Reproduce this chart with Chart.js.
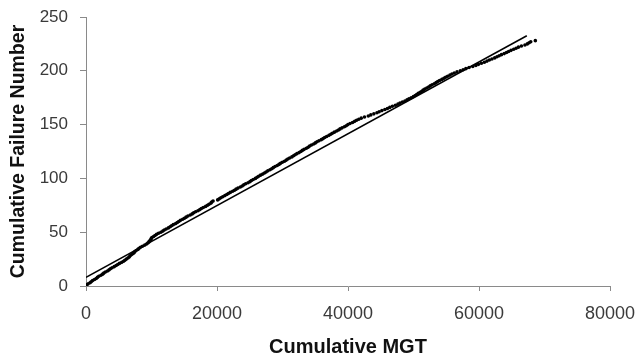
<!DOCTYPE html>
<html>
<head>
<meta charset="utf-8">
<script src="https://cdn.jsdelivr.net/npm/chart.js@4"></script>
<style>
  html, body { margin: 0; padding: 0; background: #fff; }
  #wrap { width: 636px; height: 359px; }
</style>
</head>
<body>
<div id="wrap"><canvas id="myChart"></canvas></div>
<script>
// data: one point per failure
const failureNo = [1, 2, 3, 4, 5, 6, 7, 8, 9, 10, 11, 12, 13, 14, 15, 16, 17, 18, 19, 20,
  21, 22, 23, 24, 25, 26, 27, 28, 29, 30, 31, 32, 33, 34, 35, 36, 37, 38, 39, 40,
  41, 42, 43, 44, 45, 46, 47, 48, 49, 50, 51, 52, 53, 54, 55, 56, 57, 58, 59, 60,
  61, 62, 63, 64, 65, 66, 67, 68, 69, 70, 71, 72, 73, 74, 75, 76, 77, 78, 79, 80,
  81, 82, 83, 84, 85, 86, 87, 88, 89, 90, 91, 92, 93, 94, 95, 96, 97, 98, 99, 100,
  101, 102, 103, 104, 105, 106, 107, 108, 109, 110, 111, 112, 113, 114, 115, 116, 117, 118, 119, 120,
  121, 122, 123, 124, 125, 126, 127, 128, 129, 130, 131, 132, 133, 134, 135, 136, 137, 138, 139, 140,
  141, 142, 143, 144, 145, 146, 147, 148, 149, 150, 151, 152, 153, 154, 155, 156, 157, 158, 159, 160,
  161, 162, 163, 164, 165, 166, 167, 168, 169, 170, 171, 172, 173, 174, 175, 176, 177, 178, 179, 180,
  181, 182, 183, 184, 185, 186, 187, 188, 189, 190, 191, 192, 193, 194, 195, 196, 197, 198, 199, 200,
  201, 202, 203, 204, 205, 206, 207, 208, 209, 210, 211, 212, 213, 214, 215, 216, 217, 218, 219, 220,
  221, 222, 223, 224, 225, 226, 227, 228];
const cumMGT = [100, 330, 620, 790, 1010, 1300, 1560, 1740, 1960, 2280, 2540, 2720, 2960, 3280, 3530, 3730, 3980, 4310, 4600, 4840,
  5110, 5450, 5740, 5930, 6170, 6400, 6590, 6730, 6920, 7150, 7340, 7470, 7660, 7920, 8110, 8330, 8620, 8970, 9250, 9430,
  9600, 9740, 9870, 9950, 10060, 10320, 10530, 10780, 11070, 11430, 11730, 11950, 12240, 12580, 12850, 13060, 13330, 13690, 13940, 14160,
  14420, 14760, 15030, 15280, 15560, 15920, 16210, 16440, 16730, 17090, 17380, 17620, 17910, 18270, 18560, 18780, 19060, 19200, 19400, 20100,
  20350, 20590, 20870, 21200, 21490, 21740, 22030, 22390, 22680, 22920, 23210, 23570, 23850, 24090, 24380, 24740, 25030, 25260, 25540, 25870,
  26130, 26360, 26650, 26980, 27250, 27490, 27760, 28090, 28350, 28590, 28870, 29190, 29460, 29700, 29980, 30310, 30580, 30810, 31090, 31430,
  31690, 31920, 32200, 32530, 32800, 33030, 33310, 33650, 33910, 34140, 34420, 34760, 35020, 35270, 35570, 35920, 36200, 36440, 36740, 37090,
  37370, 37610, 37920, 38270, 38550, 38790, 39100, 39450, 39730, 39990, 40310, 40690, 41020, 41310, 41650, 42020, 42520, 43100, 43480, 43950,
  44420, 44760, 45180, 45630, 46020, 46380, 46780, 47230, 47620, 47940, 48310, 48690, 49020, 49310, 49650, 49990, 50270, 50490, 50730, 51020,
  51270, 51480, 51730, 52030, 52310, 52560, 52840, 53170, 53450, 53700, 53980, 54330, 54640, 54900, 55210, 55560, 55870, 56230, 56650, 57150,
  57580, 57990, 58480, 59050, 59520, 59920, 60380, 60830, 61220, 61580, 61980, 62400, 62750, 63080, 63430, 63850, 64200, 64520, 64890, 65300,
  65660, 66020, 66480, 67010, 67380, 67650, 67900, 68600];

// fitted straight line (two ends)
const fitMGT = [0, 67300];
const fitFailures = [8, 232.6];

const xTicks = [0, 20000, 40000, 60000, 80000];
const yTicks = [0, 50, 100, 150, 200, 250];

const fontFamily = '"Liberation Sans", Arial, sans-serif';
const axisGray = '#8a8a8a';

const points = cumMGT.map((x, i) => ({ x: x, y: failureNo[i] }));
const fit = fitMGT.map((x, i) => ({ x: x, y: fitFailures[i] }));

const ctx = document.getElementById('myChart').getContext('2d');
const myChart = new Chart(ctx, {
  type: 'scatter',
  data: {
    datasets: [{
      label: 'Failures',
      data: points,
      backgroundColor: '#000',
      borderWidth: 0,
      pointRadius: 1.8,
      order: 2
    }, {
      type: 'line',
      label: 'Fit',
      data: fit,
      borderColor: '#000',
      borderWidth: 1.5,
      pointRadius: 0,
      fill: false,
      order: 1
    }]
  },
  options: {
    responsive: true,
    maintainAspectRatio: false,
    animation: false,
    layout: { padding: { left: 0, top: 17, right: 26, bottom: 0 } },
    plugins: {
      legend: { display: false },
      tooltip: { enabled: false }
    },
    scales: {
      x: {
        type: 'linear',
        min: xTicks[0],
        max: xTicks[xTicks.length - 1],
        afterBuildTicks: axis => { axis.ticks = xTicks.map(v => ({ value: v })); },
        afterFit: scale => {
          scale.height = 73;
          scale.paddingLeft = 0;
          scale.paddingRight = 0;
        },
        ticks: {
          color: '#3a3a3a',
          font: { family: fontFamily, size: 18 },
          padding: 12,
          maxRotation: 0,
          callback: v => String(v)
        },
        grid: { drawOnChartArea: false, color: axisGray, tickLength: 5 },
        border: { color: axisGray, width: 1 },
        title: {
          display: true,
          text: 'Cumulative MGT',
          color: '#111',
          font: { family: fontFamily, size: 20, weight: 'bold' },
          padding: { top: 0, bottom: 0 }
        }
      },
      y: {
        type: 'linear',
        min: yTicks[0],
        max: yTicks[yTicks.length - 1],
        afterBuildTicks: axis => { axis.ticks = yTicks.map(v => ({ value: v })); },
        afterFit: scale => {
          scale.width = 86;
          scale.paddingTop = 0;
          scale.paddingBottom = 0;
        },
        ticks: {
          color: '#3a3a3a',
          font: { family: fontFamily, size: 17 },
          padding: 12,
          callback: v => String(v)
        },
        grid: { drawOnChartArea: false, color: axisGray, tickLength: 6 },
        border: { color: axisGray, width: 1 },
        title: {
          display: true,
          text: 'Cumulative Failure Number',
          color: '#111',
          font: { family: fontFamily, size: 19.5, weight: 'bold' },
          padding: { top: 7, bottom: 0 }
        }
      }
    }
  }
});
</script>
</body>
</html>
